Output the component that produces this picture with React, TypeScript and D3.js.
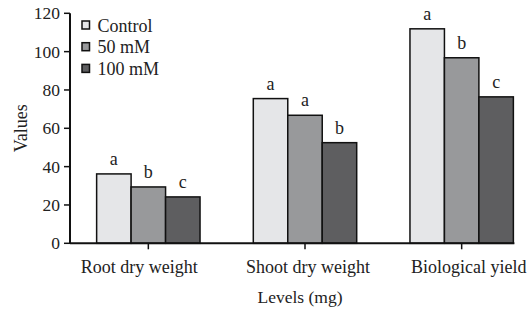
import React from "react";
import * as d3 from "d3";

const categories = ["Root dry weight", "Shoot dry weight", "Biological yield"];
const seriesNames = ["Control", "50 mM", "100 mM"];
const controlValues = [36.2, 75.5, 111.9];
const mM50Values = [29.4, 66.8, 96.8];
const mM100Values = [24.2, 52.5, 76.4];
const controlLetters = ["a", "a", "a"];
const mM50Letters = ["b", "a", "b"];
const mM100Letters = ["c", "b", "c"];
const yTicks = [0, 20, 40, 60, 80, 100, 120];
const colors = ["#e5e6e8", "#98999b", "#5e5e60"];

const W = 531;
const H = 311;
const FONT = "'Liberation Serif', 'Times New Roman', serif";
const labelNudge = [-9, 3, 7];

export default function App() {
  const series = [controlValues, mM50Values, mM100Values];
  const letters = [controlLetters, mM50Letters, mM100Letters];
  const x = d3.scaleBand<string>().domain(categories).range([70, 540]).padding(0);
  const y = d3.scaleLinear().domain([0, 120]).range([243.3, 13.3]);
  const groupW = x.bandwidth() * 0.66;
  const inner = d3
    .scaleBand<string>()
    .domain(seriesNames)
    .range([(x.bandwidth() - groupW) / 2, (x.bandwidth() + groupW) / 2]);
  const lastCat = categories[categories.length - 1];
  const axisEnd = (x(lastCat) as number) + (inner(seriesNames[2]) as number) + inner.bandwidth() + 1;
  const x0 = 70;

  return (
    <svg
      width={W}
      height={H}
      style={{ position: "absolute", left: 0, top: 0, background: "#fff" }}
      fontFamily={FONT}
    >
      {categories.map((c, ci) =>
        seriesNames.map((s, si) => {
          const v = series[si][ci];
          const bx = (x(c) as number) + (inner(s) as number);
          return (
            <g key={c + s}>
              <rect
                x={bx}
                y={y(v)}
                width={inner.bandwidth()}
                height={y(0) - y(v)}
                fill={colors[si]}
                stroke="#111"
                strokeWidth={1.5}
              />
              <text
                x={bx + inner.bandwidth() / 2}
                y={y(v) - 9}
                textAnchor="middle"
                fontSize={18}
                fill="#222"
              >
                {letters[si][ci]}
              </text>
            </g>
          );
        })
      )}
      <line x1={x0} x2={x0} y1={y(120)} y2={y(0)} stroke="#111" strokeWidth={2} />
      {yTicks.map((t) => (
        <g key={t}>
          <line x1={x0 - 6} x2={x0} y1={y(t)} y2={y(t)} stroke="#111" strokeWidth={1.5} />
          <text
            x={x0 - 10}
            y={y(t)}
            dy="0.35em"
            textAnchor="end"
            fontSize={17.5}
            fill="#222"
          >
            {t}
          </text>
        </g>
      ))}
      <line x1={x0} x2={axisEnd} y1={y(0)} y2={y(0)} stroke="#111" strokeWidth={2} />
      {categories.map((c, ci) => {
        const cx = (x(c) as number) + x.bandwidth() / 2;
        return (
          <g key={c}>
            <line x1={cx} x2={cx} y1={y(0)} y2={y(0) + 6} stroke="#111" strokeWidth={1.5} />
            <text x={cx + labelNudge[ci]} y={273} textAnchor="middle" fontSize={18} fill="#222">
              {c}
            </text>
          </g>
        );
      })}
      <text x={300} y={303} textAnchor="middle" fontSize={17.5} fill="#222">
        Levels (mg)
      </text>
      <text
        transform={`translate(27, ${(y(0) + y(120)) / 2}) rotate(-90)`}
        textAnchor="middle"
        fontSize={18}
        fill="#222"
      >
        Values
      </text>
      {seriesNames.map((s, si) => (
        <g key={s} transform={`translate(82, ${21 + si * 21.7})`}>
          <rect x={0} y={0} width={7.5} height={8} fill={colors[si]} stroke="#111" strokeWidth={1.5} />
          <text x={15.5} y={10.5} fontSize={18} fill="#222">
            {s}
          </text>
        </g>
      ))}
    </svg>
  );
}
